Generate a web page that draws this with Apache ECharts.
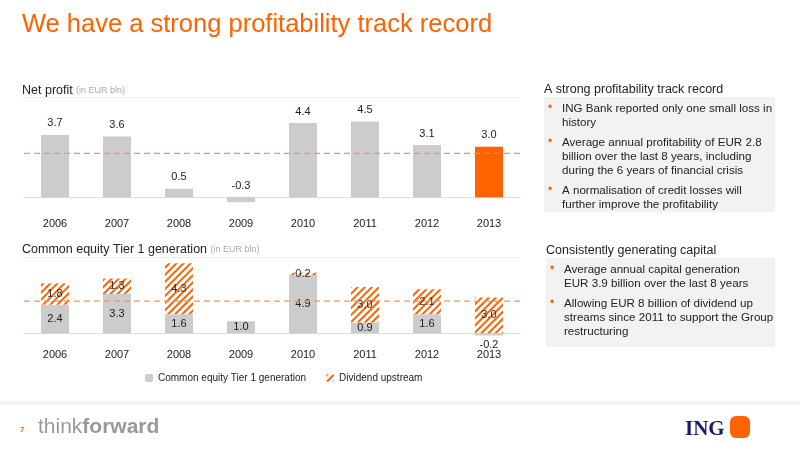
<!DOCTYPE html>
<html><head><meta charset="utf-8">
<script src="https://cdn.jsdelivr.net/npm/echarts@6/dist/echarts.min.js"></script>
<style>html,body{margin:0;background:#fff}#c{width:800px;height:450px}</style>
</head><body><div id="c"></div>
<script>
var years = ['2006', '2007', '2008', '2009', '2010', '2011', '2012', '2013'];
var netProfit = [3.7, 3.6, 0.5, -0.3, 4.4, 4.5, 3.1, 3.0];
var profitAvg = 2.6;
var cet1 = [2.4, 3.3, 1.6, 1.0, 4.9, 0.9, 1.6, -0.2];
var dividend = [1.8, 1.3, 4.3, '-', 0.2, 3.0, 2.1, 3.0];
var capitalAvg = 2.7;

var ORANGE = '#ff6200', GREY = '#cccccc', FONT = 'Liberation Sans';
var chart = echarts.init(document.getElementById('c'));

function xAx(gi) {
  return {gridIndex: gi, type: 'category', data: years,
    axisLine: {onZero: true, lineStyle: {color: '#ddd'}}, axisTick: {show: false},
    axisLabel: {fontFamily: FONT, fontSize: 11, color: '#222', margin: 4}};
}
function yAx(gi, min, max) {
  return {gridIndex: gi, type: 'value', min: min, max: max, show: false, splitLine: {show: false}};
}

var box = function (x, y, w, h) { return {type: 'rect', shape: {x: x, y: y, width: w, height: h}, style: {fill: '#f2f2f2'}}; };
function bullets(x, y, items) {
  var out = [];
  items.forEach(function (lines) {
    out.push({type: 'text', left: x, top: y, style: {text: '•', fill: ORANGE, font: '12px ' + FONT}});
    out.push({type: 'text', left: x + 14, top: y, style: {text: lines.join('\n'), fill: '#222', font: '11.6px ' + FONT, lineHeight: 14}});
    y += lines.length * 14 + 6;
  });
  return out;
}

chart.setOption({
  animation: false,
  textStyle: {fontFamily: FONT},
  grid: [
    {left: 24, width: 496, top: 113, height: 101},
    {left: 24, width: 496, top: 262, height: 83}
  ],
  xAxis: [xAx(0), xAx(1)],
  yAxis: [yAx(0, -1, 5), yAx(1, -1, 6)],
  legend: {bottom: 62, left: 140, itemWidth: 8, itemHeight: 8, itemGap: 20,
    textStyle: {fontFamily: FONT, fontSize: 10, color: '#222'},
    data: ['Common equity Tier 1 generation', 'Dividend upstream']},
  series: [
    {type: 'bar', name: 'Net profit', xAxisIndex: 0, yAxisIndex: 0, barWidth: 28,
      data: netProfit.map(function (v, i) { return i === 7 ? {value: v, itemStyle: {color: ORANGE}} : v; }),
      itemStyle: {color: GREY},
      label: {show: true, position: 'top', distance: 6, fontFamily: FONT, fontSize: 11, color: '#222',
        formatter: function (p) { return p.value.toFixed(1); }}},
    {type: 'bar', name: 'Common equity Tier 1 generation', xAxisIndex: 1, yAxisIndex: 1, stack: 'c', barWidth: 28,
      data: cet1, itemStyle: {color: GREY},
      label: {show: true, position: 'inside', fontFamily: FONT, fontSize: 11, color: '#222',
        formatter: function (p) { return p.value.toFixed(1); }},
      labelLayout: function (p) {
        return p.dataIndex === 7 ? {x: p.rect.x + p.rect.width / 2, y: p.rect.y + p.rect.height + 9, align: 'center', verticalAlign: 'middle'} : {};
      }},
    {type: 'bar', name: 'Dividend upstream', xAxisIndex: 1, yAxisIndex: 1, stack: 'c', barWidth: 28,
      data: dividend,
      itemStyle: {color: '#fff', decal: {symbol: 'rect', color: ORANGE, dashArrayX: [1, 0], dashArrayY: [2, 3], rotation: -Math.PI / 4, symbolSize: 1}},
      label: {show: true, position: 'inside', fontFamily: FONT, fontSize: 11, color: '#333',
        formatter: function (p) { return p.value.toFixed(1); }}}
  ],
  graphic: [
    {type: 'text', left: 22, top: 12, style: {text: 'We have a strong profitability track record', fill: ORANGE, font: '25.5px ' + FONT}},
    {type: 'rect', shape: {x: 22, y: 97, width: 498, height: 1}, style: {fill: '#eee'}},
    {type: 'rect', shape: {x: 22, y: 257, width: 498, height: 1}, style: {fill: '#eee'}},
    {type: 'text', left: 22, top: 84, style: {rich: {a: {font: '12.5px ' + FONT, fill: '#222'}, b: {font: '9px ' + FONT, fill: '#aaa'}}, text: '{a|Net profit} {b|(in EUR bln)}'}},
    {type: 'text', left: 22, top: 243, style: {rich: {a: {font: '12.5px ' + FONT, fill: '#222'}, b: {font: '9px ' + FONT, fill: '#aaa'}}, text: '{a|Common equity Tier 1 generation} {b|(in EUR bln)}'}},
    {type: 'text', left: 544, top: 83, style: {text: 'A strong profitability track record', fill: '#222', font: '12.5px ' + FONT}},
    box(544, 97, 231, 115),
    {type: 'text', left: 546, top: 244, style: {text: 'Consistently generating capital', fill: '#222', font: '12.5px ' + FONT}},
    box(546, 258, 229, 89),
    {type: 'group', children: bullets(548, 102, [
      ['ING Bank reported only one small loss in', 'history'],
      ['Average annual profitability of EUR 2.8', 'billion over the last 8 years, including', 'during the 6 years of financial crisis'],
      ['A normalisation of credit losses will', 'further improve the profitability']]).concat(bullets(550, 263, [
      ['Average annual capital generation', 'EUR 3.9 billion over the last 8 years'],
      ['Allowing EUR 8 billion of dividend up', 'streams since 2011 to support the Group', 'restructuring']]))},
    {type: 'rect', shape: {x: 0, y: 401, width: 800, height: 4}, style: {fill: '#f3f3f3'}},
    {type: 'text', left: 20, top: 426, style: {text: '7', fill: ORANGE, font: 'bold 8px ' + FONT}},
    {type: 'text', left: 38, top: 417, style: {rich: {a: {font: '21px ' + FONT, fill: '#999'}, b: {font: 'bold 21px ' + FONT, fill: '#999'}}, text: '{a|think}{b|forward}'}},
    {type: 'text', left: 685, top: 419, style: {text: 'ING', fill: '#1a1a6e', font: 'bold 21px "Liberation Serif"'}},
    {type: 'rect', shape: {x: 730, y: 416, width: 20, height: 22, r: 6}, style: {fill: ORANGE}}
  ]
});

// dashed average lines placed through the axes' own scale
function avgLineGraphic(gi, v) {
  var y = chart.convertToPixel({yAxisIndex: gi}, v);
  return {type: 'line', shape: {x1: 24, y1: y, x2: 520, y2: y}, z: 10,
    style: {stroke: '#f7935a', lineWidth: 1.2, lineDash: [6, 4]}};
}
chart.setOption({graphic: [{id: 'avg0', ...avgLineGraphic(0, profitAvg)}, {id: 'avg1', ...avgLineGraphic(1, capitalAvg)}]});
</script></body></html>
